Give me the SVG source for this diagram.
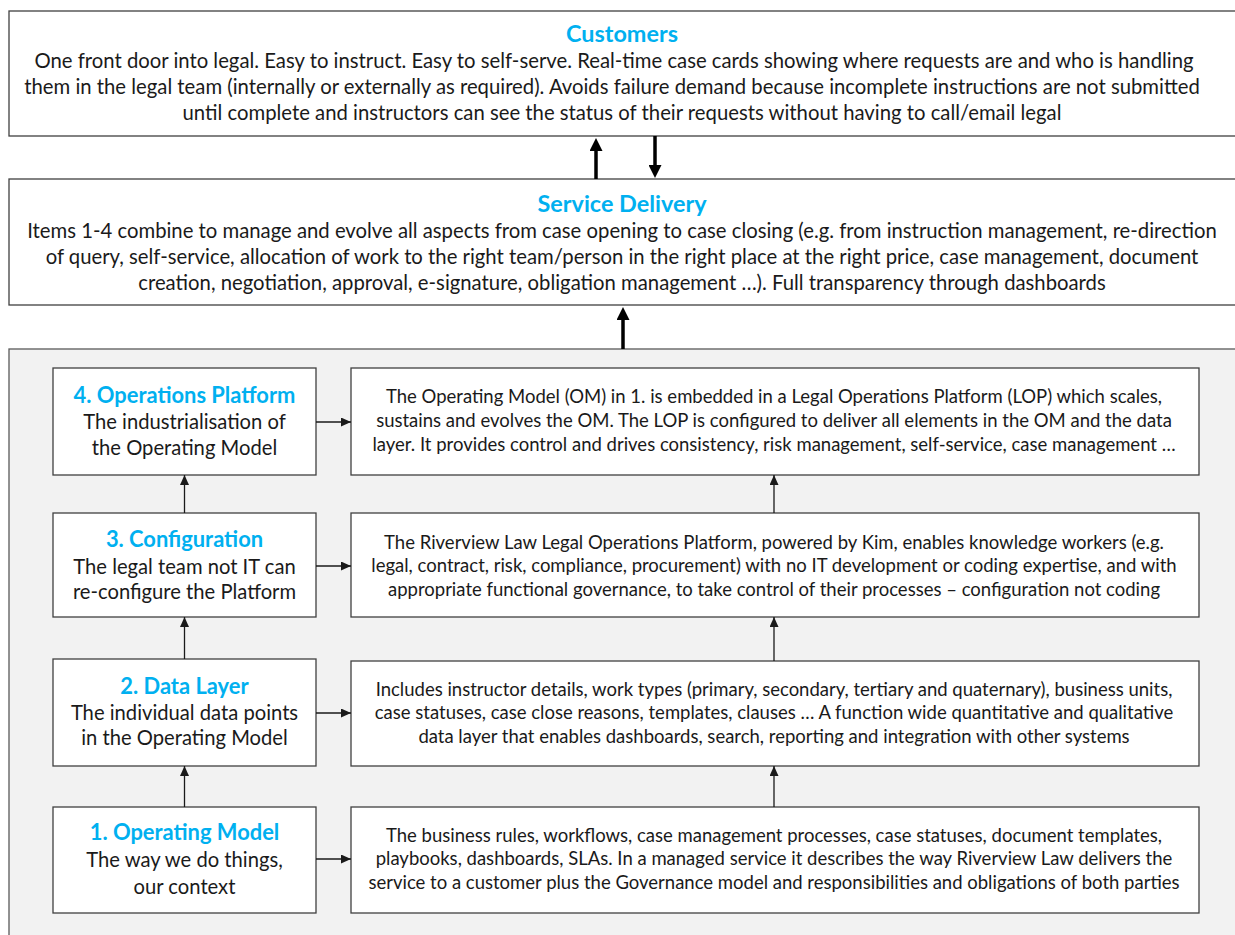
<svg xmlns="http://www.w3.org/2000/svg" width="1235" height="935" viewBox="0 0 1235 935">
<style>
  .box { fill: #ffffff; stroke: #404040; stroke-width: 1.3; }
  .panel { fill: #f2f2f2; stroke: #595959; stroke-width: 1.3; }
  .title { font-family: Lato, "Liberation Sans", sans-serif; font-weight: bold; fill: #00b0f0; text-anchor: middle; font-size: 23.4px; }
  .ntitle { font-family: Lato, "Liberation Sans", sans-serif; font-weight: bold; fill: #00b0f0; text-anchor: middle; font-size: 21.9px; }
  .txt { font-family: Lato, "Liberation Sans", sans-serif; fill: #1a1a1a; text-anchor: middle; font-size: 20.3px; }
  .ntxt { font-family: Lato, "Liberation Sans", sans-serif; fill: #1a1a1a; text-anchor: middle; font-size: 20.2px; }
  .small { font-family: Lato, "Liberation Sans", sans-serif; fill: #1a1a1a; text-anchor: middle; font-size: 18.5px; }
  .thick { stroke: #000000; stroke-width: 3.5; fill: none; }
  .thin { stroke: #1a1a1a; stroke-width: 1.3; fill: none; }
</style>
<defs>
  <marker id="bigHead" viewBox="0 0 13 13" refX="2" refY="6.5" markerWidth="13" markerHeight="13" markerUnits="userSpaceOnUse" orient="auto">
    <path d="M0,0 L13,6.5 L0,13 z" fill="#000000"/>
  </marker>
  <marker id="smallHead" viewBox="0 0 10 9" refX="10" refY="4.5" markerWidth="10" markerHeight="9" markerUnits="userSpaceOnUse" orient="auto">
    <path d="M0,0 L10,4.5 L0,9 z" fill="#1a1a1a"/>
  </marker>
</defs>
<rect width="1235" height="935" fill="#ffffff"/>

<g id="customers">
  <rect class="box" x="9" y="11" width="1240" height="125"/>
  <text class="title" x="622" y="42">Customers</text>
  <text class="txt" x="614" y="68">One front door into legal. Easy to instruct. Easy to self-serve. Real-time case cards showing where requests are and who is handling</text>
  <text class="txt" x="612" y="94">them in the legal team (internally or externally as required). Avoids failure demand because incomplete instructions are not submitted</text>
  <text class="txt" x="622" y="120">until complete and instructors can see the status of their requests without having to call/email legal</text>
</g>

<g id="service-delivery">
  <rect class="box" x="9" y="179" width="1240" height="126"/>
  <text class="title" x="622" y="212">Service Delivery</text>
  <text class="txt" x="622" y="238">Items 1-4 combine to manage and evolve all aspects from case opening to case closing (e.g. from instruction management, re-direction</text>
  <text class="txt" x="622" y="264">of query, self-service, allocation of work to the right team/person in the right place at the right price, case management, document</text>
  <text class="txt" x="622" y="290">creation, negotiation, approval, e-signature, obligation management …). Full transparency through dashboards</text>
</g>

<g id="platform-panel">
  <rect class="panel" x="9" y="349" width="1240" height="600"/>
</g>

<g id="n4-operations-platform">
  <rect class="box" x="53" y="368" width="263" height="107"/>
  <text class="ntitle" x="184.5" y="403">4. Operations Platform</text>
  <text class="ntxt" x="184.5" y="429">The industrialisation of</text>
  <text class="ntxt" x="184.5" y="455">the Operating Model</text>
</g>
<g id="d4-operations-platform">
  <rect class="box" x="351" y="368" width="848" height="107"/>
  <text class="small" x="774" y="403">The Operating Model (OM) in 1. is embedded in a Legal Operations Platform (LOP) which scales,</text>
  <text class="small" x="774" y="427">sustains and evolves the OM. The LOP is configured to deliver all elements in the OM and the data</text>
  <text class="small" x="774" y="451">layer. It provides control and drives consistency, risk management, self-service, case management …</text>
</g>

<g id="n3-configuration">
  <rect class="box" x="53" y="513" width="263" height="104"/>
  <text class="ntitle" x="184.5" y="547">3. Configuration</text>
  <text class="ntxt" x="184.5" y="574">The legal team not IT can</text>
  <text class="ntxt" x="184.5" y="599">re-configure the Platform</text>
</g>
<g id="d3-configuration">
  <rect class="box" x="351" y="513" width="848" height="104"/>
  <text class="small" x="774" y="549">The Riverview Law Legal Operations Platform, powered by Kim, enables knowledge workers (e.g.</text>
  <text class="small" x="774" y="572">legal, contract, risk, compliance, procurement) with no IT development or coding expertise, and with</text>
  <text class="small" x="774" y="596">appropriate functional governance, to take control of their processes – configuration not coding</text>
</g>

<g id="n2-data-layer">
  <rect class="box" x="53" y="659" width="263" height="107"/>
  <text class="ntitle" x="184.5" y="694">2. Data Layer</text>
  <text class="ntxt" x="184.5" y="720">The individual data points</text>
  <text class="ntxt" x="184.5" y="745">in the Operating Model</text>
</g>
<g id="d2-data-layer">
  <rect class="box" x="351" y="661" width="848" height="105"/>
  <text class="small" x="774" y="696">Includes instructor details, work types (primary, secondary, tertiary and quaternary), business units,</text>
  <text class="small" x="774" y="719">case statuses, case close reasons, templates, clauses … A function wide quantitative and qualitative</text>
  <text class="small" x="774" y="743">data layer that enables dashboards, search, reporting and integration with other systems</text>
</g>

<g id="n1-operating-model">
  <rect class="box" x="53" y="807" width="263" height="106"/>
  <text class="ntitle" x="184.5" y="840">1. Operating Model</text>
  <text class="ntxt" x="184.5" y="867">The way we do things,</text>
  <text class="ntxt" x="184.5" y="894">our context</text>
</g>
<g id="d1-operating-model">
  <rect class="box" x="351" y="807" width="848" height="106"/>
  <text class="small" x="774" y="842">The business rules, workflows, case management processes, case statuses, document templates,</text>
  <text class="small" x="774" y="865">playbooks, dashboards, SLAs. In a managed service it describes the way Riverview Law delivers the</text>
  <text class="small" x="774" y="889">service to a customer plus the Governance model and responsibilities and obligations of both parties</text>
</g>

<g id="connectors">
  <line class="thick" x1="596" y1="179" x2="596" y2="149" marker-end="url(#bigHead)"/>
  <line class="thick" x1="655" y1="136" x2="655" y2="167" marker-end="url(#bigHead)"/>
  <line class="thick" x1="623" y1="349" x2="623" y2="318" marker-end="url(#bigHead)"/>

  <line class="thin" x1="184.5" y1="807" x2="184.5" y2="766" marker-end="url(#smallHead)"/>
  <line class="thin" x1="184.5" y1="659" x2="184.5" y2="617" marker-end="url(#smallHead)"/>
  <line class="thin" x1="184.5" y1="513" x2="184.5" y2="475" marker-end="url(#smallHead)"/>

  <line class="thin" x1="774" y1="807" x2="774" y2="766" marker-end="url(#smallHead)"/>
  <line class="thin" x1="774" y1="661" x2="774" y2="617" marker-end="url(#smallHead)"/>
  <line class="thin" x1="774" y1="513" x2="774" y2="475" marker-end="url(#smallHead)"/>

  <line class="thin" x1="316" y1="422" x2="351" y2="422" marker-end="url(#smallHead)"/>
  <line class="thin" x1="316" y1="566" x2="351" y2="566" marker-end="url(#smallHead)"/>
  <line class="thin" x1="316" y1="713" x2="351" y2="713" marker-end="url(#smallHead)"/>
  <line class="thin" x1="316" y1="859" x2="351" y2="859" marker-end="url(#smallHead)"/>
</g>
</svg>
